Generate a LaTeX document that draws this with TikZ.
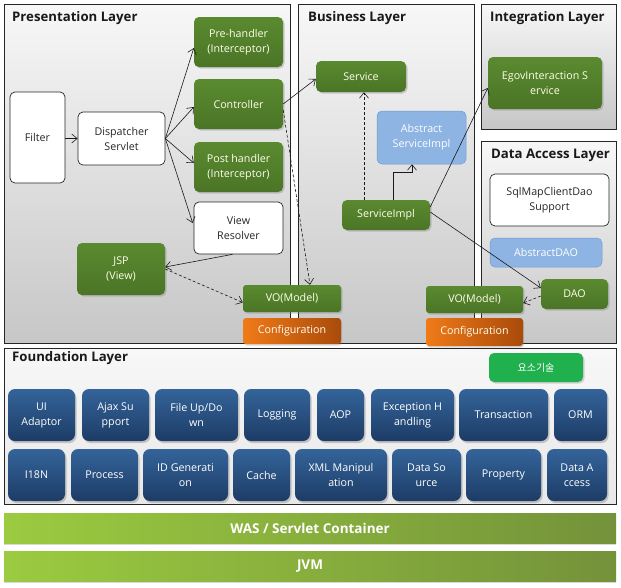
\documentclass[tikz,border=0pt]{standalone}
\usepackage{fontspec}
\setmainfont{Open Sans}
\newfontfamily\krfont{Noto Sans CJK KR}
\usetikzlibrary{arrows.meta,shadows}
\definecolor{gtop}{HTML}{5A8A30}
\definecolor{gbot}{HTML}{4B7526}
\definecolor{lbl}{HTML}{8DB4E2}
\definecolor{lblb}{HTML}{6F9BD0}
\definecolor{otop}{HTML}{F07A18}
\definecolor{obot}{HTML}{A94B0A}
\definecolor{btop}{HTML}{34649A}
\definecolor{bbot}{HTML}{1D3C66}
\definecolor{kgreen}{HTML}{20B04E}
\definecolor{wl}{HTML}{9BCB40}
\definecolor{wr}{HTML}{74923A}
\begin{document}
\begin{tikzpicture}[x=1pt,y=-1pt,
  panel/.style={draw=black!85, line width=0.8pt, top color=black!3, bottom color=black!22, inner sep=0pt},
  fpanel/.style={draw=black!85, line width=0.8pt, top color=black!3, bottom color=black!9, inner sep=0pt},
  ttl/.style={anchor=west, font=\fontsize{13.2}{15}\selectfont\bfseries, text=black!90, inner sep=0pt},
  box/.style={rounded corners=5pt, align=center, inner sep=1pt, font=\fontsize{10.7}{15}\selectfont},
  gnode/.style={box, top color=gtop, bottom color=gbot, text=white!92!yellow,
     drop shadow={opacity=0.35, shadow xshift=1.5pt, shadow yshift=-1.5pt}},
  wnode/.style={box, draw=black!85, line width=0.7pt, fill=white, text=black!85},
  bnode/.style={box, fill=lbl, draw=lblb, line width=0.5pt, text=white},
  onode/.style={box, rounded corners=3pt, left color=otop, right color=obot, text=white!95!yellow,
     drop shadow={opacity=0.3, shadow xshift=1pt, shadow yshift=-1.5pt}},
  fnode/.style={box, rounded corners=7pt, top color=btop, bottom color=bbot, text=white,
     drop shadow={opacity=0.4, shadow xshift=1.5pt, shadow yshift=-2pt}},
  bar/.style={left color=wl, right color=wr, text=white, font=\fontsize{13.5}{15}\selectfont\bfseries,
     drop shadow={opacity=0.3, shadow xshift=0pt, shadow yshift=-2pt}},
  arr/.style={-{Straight Barb[length=5.5pt,width=9pt]}, line width=0.6pt, black!90},
  darr/.style={arr, dash pattern=on 3pt off 2pt}
]
\useasboundingbox (0,0) rectangle (621,587);
\fill[white] (0,0) rectangle (621,587);

% panels
\node[panel, minimum width=286pt, minimum height=339pt] (pres) at (147,173.5) {};
\node[panel, minimum width=176pt, minimum height=339pt] (bus) at (386,173.5) {};
\node[panel, minimum width=135pt, minimum height=125pt] (integ) at (548.5,66.5) {};
\node[panel, minimum width=135pt, minimum height=202pt] (dal) at (548.5,242) {};
\node[fpanel, minimum width=612pt, minimum height=156pt] (found) at (310,426) {};
\node[bar, minimum width=612pt, minimum height=30pt] (was) at (310,528) {WAS / Servlet Container};
\node[bar, minimum width=612pt, minimum height=30pt] (jvm) at (310,566) {JVM};

% titles
\node[ttl] (t1) at (12,18) {Presentation Layer};
\node[ttl] (t2) at (308,18) {Business Layer};
\node[ttl] (t3) at (490,18) {Integration Layer};
\node[ttl] (t4) at (491,155) {Data Access Layer};
\node[ttl] (t5) at (12,358) {Foundation Layer};

% presentation
\node[wnode, minimum width=55pt, minimum height=91pt] (filter) at (37.5,137.5) {Filter};
\node[wnode, minimum width=87pt, minimum height=53pt] (disp) at (121.5,138.5) {Dispatcher\\Servlet};
\node[gnode, minimum width=89pt, minimum height=50pt] (pre) at (238.5,42) {Pre-handler\\(Interceptor)};
\node[gnode, minimum width=89pt, minimum height=50pt] (ctrl) at (238.5,104) {Controller};
\node[gnode, minimum width=89pt, minimum height=50pt] (post) at (238.5,167) {Post handler\\(Interceptor)};
\node[wnode, minimum width=89pt, minimum height=52pt] (vr) at (238.5,228) {View\\Resolver};
\node[gnode, minimum width=88pt, minimum height=52pt] (jsp) at (121,269) {JSP\\(View)};
\node[gnode, rounded corners=3pt, minimum width=98pt, minimum height=27pt] (vo1) at (292,298.5) {VO(Model)};
\node[onode, minimum width=98pt, minimum height=26pt] (conf1) at (292,331) {Configuration};

% business
\node[gnode, minimum width=90pt, minimum height=31pt] (svc) at (361,76.5) {Service};
\node[bnode, minimum width=89pt, minimum height=53pt] (asi) at (421.5,137.5) {Abstract\\ServiceImpl};
\node[gnode, minimum width=88pt, minimum height=30pt] (si) at (386,215) {ServiceImpl};

% integration
\node[gnode, minimum width=114pt, minimum height=52pt] (egov) at (545,83) {EgovInteraction S\\ervice};

% data access
\node[wnode, minimum width=119pt, minimum height=52pt] (sql) at (549.5,200) {SqlMapClientDao\\Support};
\node[bnode, minimum width=112pt, minimum height=29pt] (adao) at (546,252.5) {AbstractDAO};
\node[gnode, minimum width=67pt, minimum height=30pt] (dao) at (574.5,294) {DAO};
\node[gnode, rounded corners=3pt, minimum width=97pt, minimum height=27pt] (vo2) at (474.5,299.5) {VO(Model)};
\node[onode, minimum width=97pt, minimum height=28pt] (conf2) at (474.5,332) {Configuration};

% foundation
\node[box, fill=kgreen, text=white, minimum width=94pt, minimum height=29pt, font=\krfont\fontsize{10}{12}\selectfont,
  drop shadow={opacity=0.3, shadow xshift=1.5pt, shadow yshift=-1.5pt}] (ks) at (536,367.5) {요소기술};
\node[fnode, minimum width=67pt, minimum height=52pt] (f1) at (41.5,415) {UI\\Adaptor};
\node[fnode, minimum width=67pt, minimum height=52pt] (f2) at (115.5,415) {Ajax Su\\pport};
\node[fnode, minimum width=83pt, minimum height=52pt] (f3) at (196.5,415) {File Up/Do\\wn};
\node[fnode, minimum width=66pt, minimum height=52pt] (f4) at (277,415) {Logging};
\node[fnode, minimum width=47pt, minimum height=52pt] (f5) at (340.5,415) {AOP};
\node[fnode, minimum width=83pt, minimum height=52pt] (f6) at (412.5,415) {Exception H\\andling};
\node[fnode, minimum width=89pt, minimum height=52pt] (f7) at (503.5,415) {Transaction};
\node[fnode, minimum width=53pt, minimum height=52pt] (f8) at (580.5,415) {ORM};
\node[fnode, minimum width=57pt, minimum height=52pt] (g1) at (36.5,475) {I18N};
\node[fnode, minimum width=67pt, minimum height=52pt] (g2) at (104.5,475) {Process};
\node[fnode, minimum width=85pt, minimum height=52pt] (g3) at (185.5,475) {ID Generati\\on};
\node[fnode, minimum width=57pt, minimum height=52pt] (g4) at (261.5,475) {Cache};
\node[fnode, minimum width=92pt, minimum height=52pt] (g5) at (341,475) {XML Manipul\\ation};
\node[fnode, minimum width=69pt, minimum height=52pt] (g6) at (426.5,475) {Data So\\urce};
\node[fnode, minimum width=75pt, minimum height=52pt] (g7) at (503.5,475) {Property};
\node[fnode, minimum width=60pt, minimum height=52pt] (g8) at (577,475) {Data A\\ccess};

% connectors
\draw[arr] (filter.east |- disp.west) -- (disp.west);
\draw[arr] (disp.east) -- ([yshift=-6pt]pre.west);
\draw[arr] (disp.east) -- ([yshift=-3pt]ctrl.west);
\draw[arr] (disp.east) -- ([yshift=4pt]post.west);
\draw[arr] (disp.east) -- ([xshift=-1pt,yshift=5pt]vr.west);
\draw[arr] (ctrl.east) -- ([yshift=-2.5pt]svc.west);
\draw[darr] ([yshift=-6pt]ctrl.east) -- ([xshift=18pt]vo1.north);
\draw[arr] ([xshift=-6pt]vr.south) -- ([yshift=2pt]jsp.east);
\draw[darr] (jsp.east) -- ([yshift=-4pt]vo1.west);
\draw[darr] ([xshift=-22pt]si.north) -- ([xshift=-22pt]si.north |- svc.south);
\draw[arr] ([xshift=7pt]si.north) -- ++(0,-28) -| ([xshift=-9.5pt]asi.south);
\draw[arr] ([yshift=8pt]si.east) -- ([yshift=-5pt]egov.west);
\draw[arr] ([yshift=3pt]si.east) -- ([yshift=6pt]dao.west);
\draw[darr] ([yshift=-2pt]dao.west) -- ([yshift=-3.5pt]vo2.east);
\end{tikzpicture}
\end{document}
